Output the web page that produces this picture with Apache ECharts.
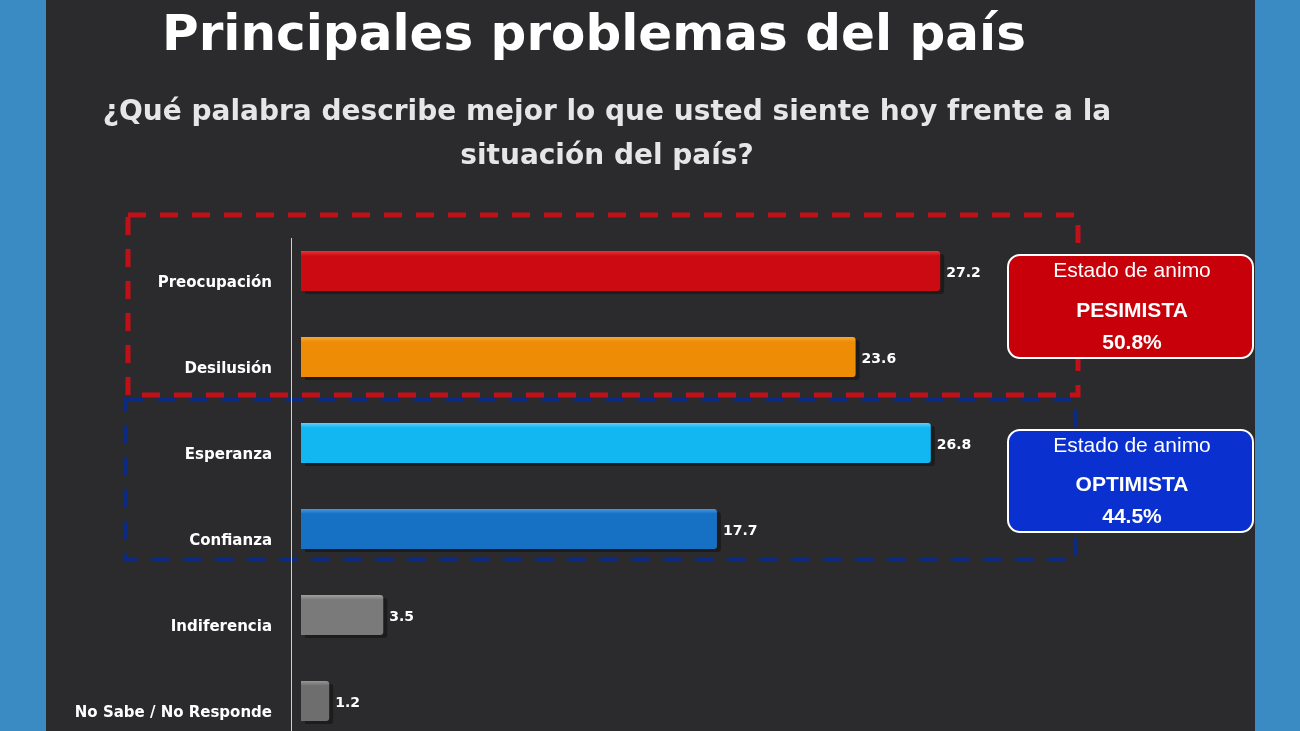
<!DOCTYPE html><html><head><meta charset="utf-8"><script src="https://cdn.jsdelivr.net/npm/echarts@6/dist/echarts.min.js"></script>
<style>html,body{margin:0;padding:0;background:#3a8ac4}#c{width:1300px;height:731px}</style></head><body><div id="c"></div>
<script>
const categories=['Preocupación','Desilusión','Esperanza','Confianza','Indiferencia','No Sabe / No Responde'];
const values=[27.2,23.6,26.8,17.7,3.5,1.2];
const colors=['#cc0a12','#ef8c06','#12b6f0','#1670c4','#7a7a7a','#6e6e6e'];
const topColors=['#e8343a','#f7a83a','#5fd0f8','#4a96de','#a0a0a0','#969696'];
const chart=echarts.init(document.getElementById('c'));
const F='"DejaVu Sans", sans-serif';
const A='"Liberation Sans", Arial, sans-serif';
chart.setOption({
 backgroundColor:'#3a8ac4',
 graphic:[
  {type:'rect',z:-10,shape:{x:46,y:0,width:1209,height:731},style:{fill:'#2b2b2d'}},
  {type:'text',x:594,y:12,style:{text:'Principales problemas del país',fill:'#fff',font:'bold 50px '+F,align:'center'}},
  {type:'text',x:607,y:91,style:{text:'¿Qué palabra describe mejor lo que usted siente hoy frente a la\nsituación del país?',fill:'#e6e6e6',font:'bold 28px '+F,align:'center',lineHeight:44}},
  {type:'rect',shape:{x:128,y:215,width:950,height:180},style:{fill:'none',stroke:'#c01018',lineWidth:5,lineDash:[18,14]}},
  {type:'rect',shape:{x:125,y:400,width:950,height:160},style:{fill:'none',stroke:'#0c2a80',lineWidth:4,lineDash:[18,14]}},
  {type:'rect',shape:{x:291,y:238,width:1,height:493},style:{fill:'#cfcfcf'}},
  {type:'rect',shape:{x:1008,y:255,width:245,height:103,r:12},style:{fill:'#c8000a',stroke:'#fff',lineWidth:2}},
  {type:'text',x:1132,y:261,style:{text:'Estado de animo',fill:'#fff',font:'21px '+A,align:'center'}},
  {type:'text',x:1132,y:295,style:{text:'PESIMISTA\n50.8%',fill:'#fff',font:'bold 21px '+A,align:'center',lineHeight:32}},
  {type:'rect',shape:{x:1008,y:430,width:245,height:102,r:12},style:{fill:'#0a30d0',stroke:'#fff',lineWidth:2}},
  {type:'text',x:1132,y:436,style:{text:'Estado de animo',fill:'#fff',font:'21px '+A,align:'center'}},
  {type:'text',x:1132,y:469,style:{text:'OPTIMISTA\n44.5%',fill:'#fff',font:'bold 21px '+A,align:'center',lineHeight:32}}
 ],
 grid:{left:301,right:294,top:228,bottom:-13,containLabel:false,outerBoundsMode:'none'},
 xAxis:{type:'value',min:0,max:30,show:false},
 yAxis:{type:'category',inverse:true,data:categories,axisLine:{show:false},axisTick:{show:false},
  axisLabel:{color:'#fff',fontWeight:'bold',fontSize:15,fontFamily:F,margin:29,verticalAlign:'top',padding:[5,0,0,0]}},
 series:[{type:'bar',barWidth:40,data:values.map((v,i)=>({value:v,itemStyle:{color:{type:'linear',x:0,y:0,x2:0,y2:1,colorStops:[{offset:0,color:topColors[i]},{offset:0.12,color:colors[i]},{offset:1,color:colors[i]}]},borderRadius:[0,3,3,0],shadowColor:'rgba(0,0,0,0.35)',shadowOffsetX:4,shadowOffsetY:3}})),
  label:{show:true,position:'right',color:'#fff',fontWeight:'bold',fontSize:14,fontFamily:F,distance:6,offset:[0,2]}}]
});
</script></body></html>
